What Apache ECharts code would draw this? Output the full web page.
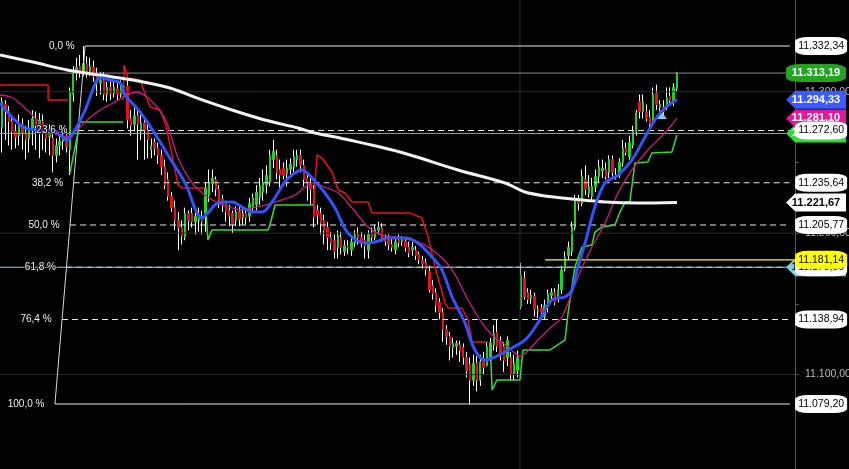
<!DOCTYPE html>
<html><head><meta charset="utf-8">
<script src="https://cdn.jsdelivr.net/npm/echarts@6/dist/echarts.min.js"></script>
<style>html,body{margin:0;padding:0;background:#000;}#c{width:849px;height:469px;}</style>
</head><body><div id="c"></div>
<script>
// ---- candle data (open, close, high, low) ----
const openP = [11275,11291,11286,11279,11272,11269,11277,11271,11267,11274,11281,11276,11279,11272,11268,11267,11255,11262,11265,11269,
11259,11298,11313,11318,11314,11320,11314,11317,11311,11306,11308,11298,11303,11299,11302,11298,11303,11304,11281,11277,
11283,11272,11278,11273,11259,11264,11260,11255,11247,11238,11226,11218,11209,11204,11197,11214,11214,11208,11209,11212,
11214,11227,11235,11238,11231,11224,11221,11216,11214,11209,11215,11211,11214,11212,11218,11220,11225,11229,11234,11236,
11252,11255,11245,11246,11242,11245,11247,11252,11255,11248,11239,11235,11231,11216,11214,11209,11204,11197,11195,11190,
11197,11187,11191,11188,11193,11199,11197,11195,11188,11200,11197,11202,11204,11197,11195,11192,11188,11195,11194,11194,
11190,11188,11188,11185,11181,11179,11173,11163,11158,11151,11144,11132,11127,11119,11120,11121,11119,11112,11107,11096,
11108,11096,11109,11106,11112,11121,11130,11124,11120,11112,11112,11100,11103,11148,11168,11158,11154,11155,11145,11147,
11141,11148,11156,11158,11154,11160,11175,11184,11187,11204,11223,11221,11238,11228,11226,11233,11240,11244,11245,11243,
11252,11240,11241,11250,11260,11254,11262,11272,11293,11286,11286,11282,11278,11299,11289,11289,11289,11297,11293,11302];
const closeP = [11293,11286,11279,11272,11268,11277,11271,11266,11274,11281,11276,11280,11272,11267,11272,11255,11262,11265,11269,11261,
11300,11313,11317,11314,11320,11314,11318,11311,11306,11308,11298,11303,11299,11303,11298,11303,11304,11280,11276,11283,
11277,11278,11273,11266,11262,11260,11255,11247,11234,11226,11218,11209,11204,11198,11214,11209,11208,11212,11213,11208,
11232,11236,11239,11231,11223,11220,11215,11212,11206,11215,11210,11214,11211,11221,11225,11229,11233,11236,11241,11255,
11258,11243,11241,11241,11246,11249,11254,11255,11248,11238,11235,11231,11211,11213,11207,11202,11197,11193,11187,11198,
11190,11191,11190,11194,11199,11197,11194,11191,11199,11197,11203,11204,11197,11194,11192,11190,11194,11193,11195,11190,
11186,11190,11184,11181,11178,11174,11160,11157,11149,11144,11132,11127,11120,11122,11122,11117,11112,11103,11096,11108,
11096,11109,11105,11120,11122,11129,11120,11115,11110,11124,11100,11108,11112,11170,11155,11153,11156,11146,11146,11144,
11149,11157,11158,11151,11160,11174,11183,11190,11204,11223,11221,11240,11231,11233,11233,11240,11247,11246,11240,11252,
11243,11241,11250,11260,11257,11264,11272,11285,11286,11293,11281,11277,11298,11291,11291,11286,11296,11294,11303,11313.19];
const highP = [11296,11294,11290,11283,11277,11284,11281,11276,11280,11287,11286,11285,11284,11277,11277,11272,11267,11270,11274,11273,
11303,11318,11324,11326,11332.34,11325,11324,11322,11317,11314,11314,11307,11308,11307,11306,11308,11310,11308,11287,11289,
11287,11284,11281,11277,11267,11267,11264,11259,11252,11243,11229,11223,11215,11209,11218,11216,11218,11216,11218,11216,
11236,11245,11245,11240,11234,11227,11223,11220,11216,11219,11220,11218,11218,11225,11228,11234,11239,11245,11248,11259,
11266,11259,11252,11250,11252,11253,11259,11259,11259,11252,11243,11239,11234,11220,11218,11213,11208,11201,11199,11202,
11201,11195,11195,11198,11202,11204,11201,11199,11202,11204,11206,11208,11207,11199,11199,11197,11198,11199,11198,11197,
11194,11194,11191,11187,11184,11182,11177,11167,11161,11154,11147,11135,11130,11126,11124,11124,11122,11116,11112,11114,
11113,11114,11116,11123,11126,11135,11139,11127,11123,11127,11116,11114,11117,11179,11173,11161,11160,11158,11149,11150,
11153,11160,11161,11161,11164,11177,11187,11194,11208,11227,11227,11245,11248,11241,11239,11245,11252,11252,11250,11255,
11255,11246,11253,11266,11264,11269,11276,11287,11298,11298,11291,11287,11303,11305,11294,11294,11303,11303,11306,11314];
const lowP = [11257,11266,11262,11259,11260,11262,11259,11252,11257,11262,11259,11253,11259,11257,11255,11243,11250,11255,11259,11257,
11241,11293,11308,11310,11311,11310,11311,11307,11297,11298,11294,11293,11294,11296,11294,11296,11298,11274,11269,11272,
11252,11266,11252,11253,11253,11255,11249,11241,11231,11223,11215,11202,11188,11192,11195,11202,11204,11199,11201,11199,
11201,11222,11229,11226,11218,11215,11208,11205,11200,11205,11205,11206,11206,11208,11215,11216,11220,11223,11228,11233,
11246,11238,11231,11238,11233,11239,11243,11247,11243,11233,11223,11220,11204,11206,11199,11192,11188,11188,11182,11182,
11185,11184,11185,11184,11190,11192,11190,11182,11182,11194,11195,11199,11194,11191,11188,11187,11185,11190,11191,11187,
11183,11184,11181,11178,11175,11170,11158,11153,11144,11139,11123,11121,11110,11112,11114,11109,11107,11098,11079.2,11092,
11088,11092,11100,11106,11109,11117,11116,11110,11102,11106,11096,11096,11098,11146,11153,11150,11150,11141,11140,11139,
11139,11144,11153,11149,11151,11157,11173,11181,11184,11202,11216,11219,11227,11225,11223,11229,11236,11239,11238,11239,
11240,11238,11239,11247,11255,11252,11260,11269,11281,11281,11279,11274,11276,11287,11286,11283,11287,11291,11290,11300];

// ---- indicator lines [bar index, price] ----
const whiteMA = [[-0.6,11326.0],[9.1,11321.0],[19.2,11315.4],[28.9,11311.8],[38.6,11308.3],[49.5,11302.6],[59.0,11294.2],[67.8,11287.1],
[77.5,11280.0],[87.3,11274.4],[92.3,11270.8],[99.6,11267.3],[117.3,11257.4],[134.4,11244.7],[148.3,11235.5],[154.2,11229.1],
[160.1,11226.3],[168.0,11224.2],[177.8,11222.0],[187.5,11221.3],[199,11221.67]];
const blueMA = [[-0.6,11292.0],[6.8,11274.4],[11.2,11273.0],[15.6,11272.2],[19.2,11265.9],[21.5,11273.0],[24.5,11287.1],[28.0,11308.3],
[29.5,11309.7],[31.8,11308.3],[34.8,11306.2],[36.3,11297.7],[40.7,11285.7],[45.7,11268.0],[48.9,11255.3],[54.0,11235.5],
[59.0,11210.7],[60.7,11214.3],[63.7,11221.3],[67.8,11222.0],[70.8,11218.5],[73.7,11215.0],[76.7,11215.0],[79.6,11222.0],
[83.4,11236.2],[85.5,11241.1],[88.4,11244.7],[91.4,11239.0],[95.2,11228.4],[98.2,11217.8],[102.0,11200.1],[107.0,11193.1],
[110.0,11193.8],[113.8,11196.6],[118.8,11196.6],[122.6,11193.1],[126.8,11183.1],[129.7,11174.0],[132.7,11154.9],[136.5,11136.5],
[139.4,11117.4],[142.4,11110.3],[145.3,11112.4],[149.2,11117.4],[154.2,11124.5],[158.0,11136.5],[162.1,11152.7],[166.0,11154.9],
[168.0,11159.8],[169.8,11176.1],[171.9,11193.1],[174.8,11218.5],[177.8,11235.5],[181.6,11241.1],[185.7,11251.7],[189.6,11268.0],
[192.5,11280.0],[195.4,11288.5],[199,11294.33]];
const magentaMA = [[-0.6,11297.7],[3.2,11295.6],[7.4,11287.1],[11.2,11277.9],[15.0,11270.8],[19.2,11268.0],[22.1,11273.0],[25.1,11280.0],
[28.9,11287.1],[32.7,11292.0],[36.9,11297.7],[39.8,11299.8],[42.7,11296.3],[45.7,11289.2],[48.6,11277.9],[51.9,11253.1],
[56.0,11235.5],[59.8,11227.0],[63.7,11221.3],[67.8,11217.8],[70.8,11216.4],[73.7,11217.8],[77.5,11219.9],[82.5,11223.5],
[86.4,11227.0],[89.3,11232.6],[91.4,11235.5],[95.2,11232.6],[99.1,11228.4],[103.2,11217.8],[107.9,11204.4],[112.0,11198.7],
[117.9,11196.6],[122.6,11193.8],[127.7,11186.7],[132.7,11174.0],[137.4,11152.7],[141.5,11136.5],[144.5,11128.0],[149.2,11119.5],
[152.7,11113.1],[158.0,11124.5],[161.6,11132.9],[165.1,11140.7],[169.8,11169.0],[173.9,11190.2],[177.8,11207.2],[181.6,11228.4],
[185.7,11244.7],[190.4,11258.8],[195.4,11270.8],[199,11281.10]];
const redStop = [
 [[-0.6,11304.8],[13.6,11304.8],[13.6,11294.2],[19.5,11294.2]],
 [[35.7,11294.2],[36.0,11318.9],[37.1,11309.7],[40.7,11308.3],[43.6,11289.2],[46.6,11287.1],[48.3,11276.5],[51.9,11234.1],[53.1,11231.9],[59.8,11231.9]],
 [[91.7,11219.9],[92.9,11255.3],[94.3,11253.1],[97.3,11243.2],[99.1,11230.5],[101.1,11228.4],[103.2,11222.0],[107.9,11222.0],[109.1,11214.3],
  [120.3,11214.3],[123.8,11210.7],[125.6,11197.3],[127.7,11176.1],[130.6,11150.6],[131.5,11147.1],[135.6,11147.1],[137.4,11138.6],[138.6,11123.0],[143.3,11123.0]]
];
const greenStop = [
 [[20.0,11242.5],[23.0,11278.6],[35.7,11278.6]],
 [[59.8,11228.4],[60.7,11195.2],[61.9,11202.3],[78.4,11202.3],[79.0,11205.8],[80.5,11219.9],[91.7,11219.9]],
 [[143.9,11123.0],[144.5,11089.1],[145.9,11096.2],[152.7,11096.2],[153.6,11117.4],[161.6,11117.4],[166.0,11124.5],[166.9,11143.6],
  [168.9,11176.1],[171.0,11190.2],[173.9,11191.6],[174.8,11200.8],[176.9,11204.4],[180.7,11205.8],[182.2,11215.0],[183.7,11222.0],
  [185.1,11222.0],[186.6,11249.6],[190.4,11250.3],[191.6,11256.7],[197.5,11257.4],[199.0,11269.4]]
];

// ---- fibonacci & levels ----
const fibHigh = 11332.34, fibLow = 11079.20;
const fibRatios = [0, 0.236, 0.382, 0.5, 0.618, 0.764, 1];
const fibLabels = ['0,0 %','23,6 %','38,2 %','50,0 %','61,8 %','76,4 %','100,0 %'];
const fibLowX = 15.6, fibHighX = 24.5;
const gridLevels = [11100, 11200, 11300];
const tickLevels = [11100, 11150, 11200, 11250, 11300];
const greenLevel = 11270.50;
const cyanLevel = 11175.90;
const yellowLevel = 11181.14, yellowStartX = 160.1;
const sessionBreakX = 152.7;
const signalPoint = [194.3, 11283.6];

// ---- layout constants ----
const X_MIN = -0.6, X_MAX = 233.8, LINE_END_X = 232.3;
const Y_MIN = 11033.23, Y_MAX = 11364.87;
const TAG_BOX_X = 241.5, TAG_ARROW_X = 240.0;
const FONT = "'Liberation Sans', Arial, sans-serif";
const UP = '#1ed41e', DOWN = '#e8101a';

function fmt(v){ const s = Number(v).toFixed(2).split('.'); return s[0].replace(/\B(?=(\d{3})+(?!\d))/g,'.') + ',' + s[1]; }
const fibVal = r => +(fibHigh - r*(fibHigh - fibLow)).toFixed(2);
const fibX = r => fibHighX - (fibHighX - fibLowX)*r;

const lastPrice = closeP[closeP.length-1];
const series = [];
function hline(v, color, x1, x2, type, width){
  series.push({type:'line', data:[[x1,v],[x2,v]], symbol:'none', silent:true, animation:false,
    lineStyle:{color:color, width:width||1, type:type||'solid'}});
}
gridLevels.forEach(v => hline(v, '#2c2c2c', X_MIN, X_MAX));
series.push({type:'line', data:[[sessionBreakX,Y_MIN],[sessionBreakX,Y_MAX]], symbol:'none', silent:true, animation:false, lineStyle:{color:'#2c2c2c', width:1}});
series.push({type:'line', data:[[fibLowX,fibLow],[fibHighX,fibHigh]], symbol:'none', silent:true, animation:false, lineStyle:{color:'#d8d8d8', width:1}});
fibRatios.forEach(r => {
  const solid = (r === 0 || r === 1);
  hline(fibVal(r), '#e8e8e8', fibX(r), LINE_END_X, solid ? 'solid' : [6,4], 1);
});
const N = openP.length;
const wickData = [], bodyData = [];
for (let i=0;i<N;i++){
  wickData.push([i, openP[i], closeP[i], lowP[i], highP[i]]);
  bodyData.push([i, openP[i], closeP[i], Math.min(openP[i],closeP[i]), Math.max(openP[i],closeP[i])]);
}
series.push({type:'candlestick', data:wickData, encode:{x:0,y:[1,2,3,4]}, barWidth:0.4, silent:true, animation:false,
  itemStyle:{color:'#fff', color0:'#fff', borderColor:'#fff', borderColor0:'#fff', borderWidth:1}});
series.push({type:'candlestick', data:bodyData, encode:{x:0,y:[1,2,3,4]}, barWidth:1.9, silent:true, animation:false,
  itemStyle:{color:UP, color0:DOWN, borderColor:UP, borderColor0:DOWN, borderWidth:1}});
hline(cyanLevel, '#8ccfe0', X_MIN, X_MAX);
hline(greenLevel, '#3ce03c', X_MIN, X_MAX);
hline(lastPrice, '#8a8a8a', X_MIN, X_MAX);
hline(yellowLevel, '#ffff00', yellowStartX, X_MAX, 'solid', 1.2);
redStop.forEach(seg => series.push({type:'line', data:seg, symbol:'none', silent:true, animation:false, lineStyle:{color:'#e8101a', width:1.5}}));
greenStop.forEach(seg => series.push({type:'line', data:seg, symbol:'none', silent:true, animation:false, lineStyle:{color:'#2ee02e', width:1.5}}));
series.push({type:'line', data:magentaMA, symbol:'none', smooth:0.3, silent:true, animation:false, lineStyle:{color:'#d4148c', width:1.3}});
series.push({type:'line', data:whiteMA, symbol:'none', smooth:0.3, silent:true, animation:false, lineStyle:{color:'#f2f2f2', width:3}});
series.push({type:'line', data:blueMA, symbol:'none', smooth:0.35, silent:true, animation:false, lineStyle:{color:'#2f54ff', width:3}});
series.push({type:'scatter', data:[signalPoint], symbol:'triangle', symbolSize:[12,8], silent:true, animation:false, itemStyle:{color:'#86cde0', opacity:1}});
// fib labels, drawn above everything in the plot
fibRatios.forEach((r,i) => series.push({type:'scatter', silent:true, animation:false, symbolSize:1, z:30, clip:false,
  itemStyle:{color:'rgba(0,0,0,0)', opacity:1},
  labelLayout:{hideOverlap:false},
  data:[{value:[fibX(r), fibVal(r)]}],
  label:{show:true, position:'left', distance:10, formatter:fibLabels[i], color:'#f0f0f0', fontSize:10, fontFamily:FONT,
    textBorderColor:'rgba(0,0,0,0.85)', textBorderWidth:2}}));

// right tags, each in own series so later ones cover earlier ones (labels included)
const ARROW = 'path://M0,9L9,0L58,0L58,18L9,18Z';
function box(v, text, bg, fg, bold, w){
  return {value:[bold ? TAG_ARROW_X : TAG_BOX_X, v], symbol:'roundRect', symbolSize:[w||52,18], itemStyle:{color:bg, opacity:1},
    label:{show:true, position:'inside', formatter:text, color:fg, fontSize: bold?11:10.5, fontWeight: bold?'bold':'normal', fontFamily:FONT}};
}
function arrow(v, text, bg, fg){
  return {value:[TAG_ARROW_X, v], symbol:ARROW, symbolSize:[60,18], itemStyle:{color:bg, opacity:1},
    label:{show:true, position:'inside', formatter:text, color:fg, fontSize:11, fontWeight:'bold', fontFamily:FONT, offset:[4,0]}};
}
const tags = [];
tags.push(arrow(greenLevel, fmt(greenLevel), '#2ee02e', '#fff'));
tags.push(arrow(magentaMA[magentaMA.length-1][1], fmt(magentaMA[magentaMA.length-1][1]), '#e2189b', '#fff'));
tags.push(arrow(blueMA[blueMA.length-1][1], fmt(blueMA[blueMA.length-1][1]), '#3b5bff', '#fff'));
tags.push(arrow(cyanLevel, fmt(cyanLevel), '#86cde0', '#000'));
tags.push(arrow(whiteMA[whiteMA.length-1][1], fmt(whiteMA[whiteMA.length-1][1]), '#ffffff', '#000'));
fibRatios.forEach(r => tags.push(box(fibVal(r), fmt(fibVal(r)), '#ffffff', '#000', false)));
tags.push(box(lastPrice, fmt(lastPrice), '#22a322', '#fff', true, 60));
tags.push(box(yellowLevel, fmt(yellowLevel), '#ffff00', '#000', false));
tags.forEach((t, i) => series.push({type:'scatter', clip:false, silent:true, animation:false, symbolKeepAspect:false,
  labelLayout:{hideOverlap:false}, z: 40 + i, data:[t]}));

const chart = echarts.init(document.getElementById('c'), null, {renderer:'canvas'});
chart.setOption({
  backgroundColor:'#000', animation:false,
  grid:{left:0, right:54, top:0, bottom:0, containLabel:false, outerBoundsMode:'none'},
  xAxis:{type:'value', min:X_MIN, max:X_MAX, show:false},
  yAxis:{type:'value', position:'right', min:Y_MIN, max:Y_MAX,
    axisLine:{show:true, onZero:false, lineStyle:{color:'#555'}},
    axisTick:{show:true, length:4, customValues:tickLevels, lineStyle:{color:'#555'}},
    axisLabel:{show:true, customValues:gridLevels, formatter:fmt, color:'#b8b8b8', fontSize:10.5, margin:10, fontFamily:FONT},
    splitLine:{show:false}},
  series: series
});
</script></body></html>
